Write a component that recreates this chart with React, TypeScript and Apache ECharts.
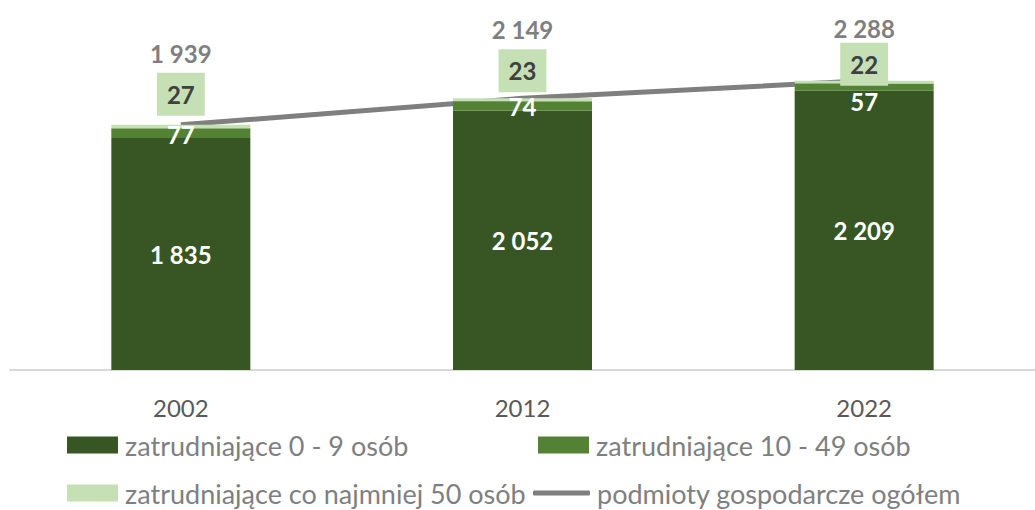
import React, { useEffect, useRef } from "react";
import * as echarts from "echarts";

const years = ["2002", "2012", "2022"];
const small = [1835, 2052, 2209];
const medium = [77, 74, 57];
const large = [27, 23, 22];
const totals = [1939, 2149, 2288];

const seriesNames = [
  "zatrudniające 0 - 9 osób",
  "zatrudniające 10 - 49 osób",
  "zatrudniające co najmniej 50 osób",
  "podmioty gospodarcze ogółem",
];

// label layout tweaks (pixels)
const boxLift = [9, 6, -5];
const totalDist = [59, 56, 40];
const mediumShift = [1, 1, 14];

const fmt = (v: number) => String(v).replace(/\B(?=(\d{3})+(?!\d))/g, " ");
const FONT = "Lato";

export default function App() {
  const ref = useRef<HTMLDivElement>(null);
  useEffect(() => {
    if (!ref.current) return;
    const chart = echarts.init(ref.current, undefined, { renderer: "svg" });
    const legendBase = {
      orient: "horizontal" as const,
      itemGap: 0,
      padding: 0,
      itemHeight: 17,
      itemWidth: 51,
      textStyle: { fontFamily: FONT, fontSize: 27, color: "#7f7f7f", padding: [0, 0, 0, 2], lineHeight: 28 },
      selectedMode: false,
    };
    chart.setOption({
      animation: false,
      textStyle: { fontFamily: FONT },
      grid: { left: 10, top: 16, width: 1044, height: 354 },
      xAxis: {
        type: "category",
        data: years,
        axisLine: { lineStyle: { color: "#d9d9d9", width: 2 } },
        axisTick: { show: false },
        axisLabel: { color: "#595959", fontSize: 24, fontFamily: FONT, margin: 25, lineHeight: 24 },
      },
      yAxis: { type: "value", min: 0, max: 2800, show: false, splitLine: { show: false } },
      legend: [
        { ...legendBase, left: 67, top: 431, data: [{ name: seriesNames[0], icon: "rect" }] },
        { ...legendBase, left: 538, top: 431, data: [{ name: seriesNames[1], icon: "rect" }] },
        { ...legendBase, left: 67, top: 479, data: [{ name: seriesNames[2], icon: "rect" }] },
        {
          ...legendBase,
          left: 533,
          top: 479,
          itemWidth: 57,
          itemHeight: 5,
          data: [{ name: seriesNames[3], icon: "roundRect", itemStyle: { color: "#7f7f7f" } }],
        },
      ],
      series: [
        {
          name: seriesNames[0],
          type: "bar",
          stack: "s",
          barWidth: 139,
          z: 2,
          data: small,
          itemStyle: { color: "#375623" },
          label: {
            show: true,
            position: "inside",
            color: "#ffffff",
            fontWeight: "bold",
            fontSize: 24,
            fontFamily: FONT,
            formatter: (p: any) => fmt(p.value),
          },
        },
        {
          name: seriesNames[1],
          type: "bar",
          stack: "s",
          z: 4,
          data: medium.map((v, i) => ({ value: v, label: { offset: [0, mediumShift[i]] } })),
          itemStyle: { color: "#548235" },
          label: {
            show: true,
            position: "inside",
            color: "#ffffff",
            fontWeight: "bold",
            fontSize: 24,
            fontFamily: FONT,
            formatter: (p: any) => fmt(p.value),
          },
        },
        {
          name: seriesNames[2],
          type: "bar",
          stack: "s",
          z: 4,
          data: large.map((v, i) => ({ value: v, label: { offset: [0, -boxLift[i]] } })),
          itemStyle: { color: "#c5e0b4" },
          label: {
            show: true,
            position: "top",
            distance: 0,
            color: "#404040",
            fontWeight: "bold",
            fontSize: 24,
            fontFamily: FONT,
            backgroundColor: "#c5e0b4",
            padding: [8, 10, 8, 10],
            lineHeight: 27,
            formatter: (p: any) => fmt(p.value),
          },
        },
        {
          name: seriesNames[3],
          type: "line",
          z: 3,
          data: totals.map((v, i) => ({ value: v, label: { distance: totalDist[i] } })),
          symbol: "circle",
          symbolSize: 1,
          showSymbol: true,
          itemStyle: { color: "rgba(127,127,127,0)" },
          lineStyle: { color: "#7f7f7f", width: 5 },
          label: {
            show: true,
            position: "top",
            color: "#7f7f7f",
            fontWeight: "bold",
            fontSize: 24,
            fontFamily: FONT,
            lineHeight: 24,
            formatter: (p: any) => fmt(p.value),
          },
        },
      ],
    });
    return () => chart.dispose();
  }, []);
  return (
    <div
      ref={ref}
      style={{ position: "fixed", left: 0, top: 0, width: 1035, height: 510, background: "#ffffff" }}
    />
  );
}
